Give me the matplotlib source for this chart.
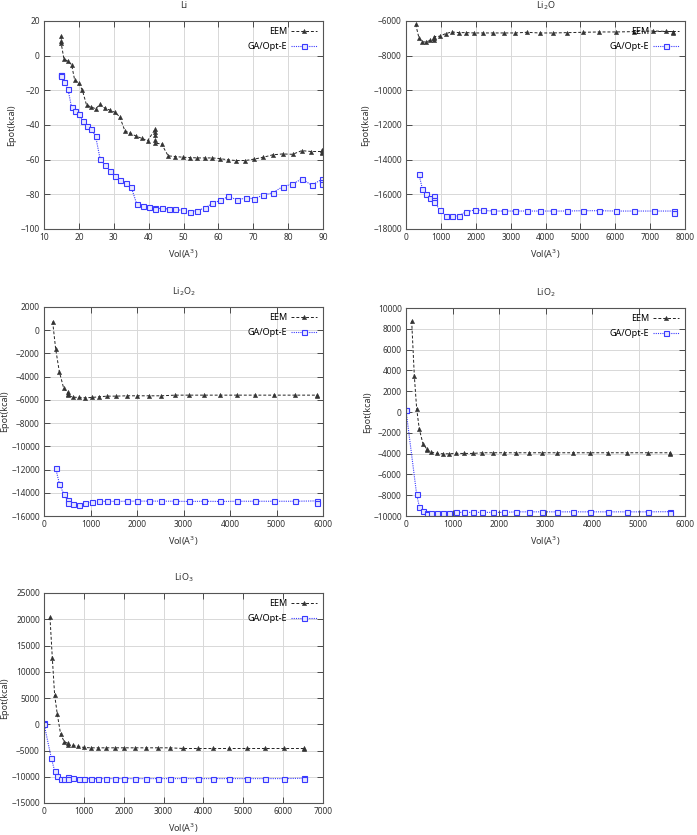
import matplotlib
matplotlib.use("Agg")
import matplotlib.pyplot as plt

plt.rcParams['font.family'] = ['Noto Sans', 'DejaVu Sans']
plt.rcParams['font.size'] = 6.5

# ---- Li ----
li_eem_v = [14.9, 14.9, 14.9, 15.7, 16.8, 17.9, 18.8, 19.9, 21.0, 22.2, 23.4, 24.8,
            26.1, 27.5, 28.9, 30.3, 31.7, 33.2, 34.7, 36.3, 38.0, 39.7,
            41.9, 41.9, 41.9, 41.9, 41.9, 43.7, 45.6, 47.7, 49.8, 52.0, 54.0,
            56.1, 58.3, 60.5, 62.8, 65.1, 67.7, 70.2, 72.9, 75.6, 78.4, 81.3,
            83.9, 86.7, 89.8, 89.8, 89.8]
li_eem_e = [11.2, 8.5, 7.5, -1.7, -3.2, -5.1, -14.1, -15.7, -19.9, -28.5, -29.5, -30.6,
            -28.1, -30.4, -31.4, -32.7, -35.2, -43.4, -44.8, -46.3, -47.7, -49.0,
            -42.5, -44.0, -46.0, -48.5, -50.5, -50.9, -57.8, -58.2, -58.6, -58.8, -59.0,
            -59.0, -59.0, -59.4, -60.1, -60.5, -60.5, -59.7, -58.6, -57.2, -56.7, -56.9,
            -54.8, -55.3, -55.3, -54.3, -56.0]
li_ga_v = [14.9, 14.9, 14.9, 15.7, 16.9, 17.9, 18.9, 20.1, 21.2, 22.4, 23.6, 24.8,
           26.1, 27.5, 29.0, 30.4, 31.8, 33.4, 35.0, 36.6, 38.4, 40.1,
           41.9, 41.9, 43.8, 45.7, 47.7, 49.8, 51.8, 53.9, 56.1, 58.3, 60.6,
           62.9, 65.3, 67.8, 70.3, 72.9, 75.6, 78.4, 81.2, 83.9, 86.8,
           89.8, 89.8, 89.8]
li_ga_e = [-11.0, -11.3, -11.6, -15.3, -19.5, -29.8, -31.8, -33.9, -37.9, -40.6, -42.3, -46.5,
           -59.7, -63.2, -66.6, -69.3, -71.8, -73.7, -75.8, -85.6, -87.0, -87.5,
           -87.8, -88.3, -88.1, -88.5, -88.7, -89.3, -90.0, -89.4, -87.9, -85.2, -83.5,
           -81.2, -83.1, -82.2, -82.5, -80.4, -79.1, -75.6, -74.1, -71.2, -74.7,
           -71.2, -72.8, -74.0]

# ---- Li2O ----
li2o_eem_v = [277, 372, 468, 582, 697, 811, 811, 811, 964, 1136, 1317, 1518, 1728,
              1957, 2215, 2492, 2797, 3122, 3465, 3828, 4220, 4630, 5069, 5527,
              6024, 6539, 7093, 7666, 7666]
li2o_eem_e = [-6192, -6978, -7208, -7208, -7112, -7100, -7000, -6900, -6882, -6728,
              -6632, -6671, -6671, -6690, -6690, -6690, -6690, -6690, -6652, -6690,
              -6690, -6671, -6652, -6632, -6632, -6613, -6575, -6613, -6700]
li2o_ga_v = [372, 468, 582, 697, 811, 811, 811, 974, 1136, 1317, 1518, 1728, 1967,
             2215, 2492, 2807, 3122, 3465, 3828, 4220, 4630, 5079, 5537, 6024,
             6549, 7103, 7675, 7675]
li2o_ga_e = [-14837, -15680, -16006, -16198, -16120, -16300, -16450, -16906, -17232,
             -17271, -17232, -17003, -16906, -16926, -16964, -16964, -16964, -16964,
             -16964, -16964, -16964, -16945, -16945, -16964, -16964, -16964, -16964,
             -17080]

# ---- Li2O2 ----
li2o2_eem_v = [186, 251, 330, 423, 509, 509, 509, 616, 746, 882, 1025, 1183, 1362,
               1556, 1778, 2007, 2265, 2523, 2817, 3118, 3441, 3785, 4151, 4545,
               4953, 5405, 5871, 5871]
li2o2_eem_e = [735, -1623, -3578, -4987, -5361, -5450, -5600, -5763, -5792, -5821,
               -5792, -5734, -5677, -5677, -5648, -5648, -5648, -5648, -5591, -5591,
               -5591, -5591, -5591, -5591, -5591, -5591, -5591, -5700]
li2o2_ga_v = [251, 330, 423, 509, 509, 624, 753, 889, 1032, 1190, 1362, 1556, 1778,
              2007, 2265, 2523, 2817, 3118, 3441, 3785, 4151, 4545, 4953, 5405,
              5871, 5871]
li2o2_ga_e = [-11887, -13210, -14101, -14650, -14850, -14963, -15021, -14906, -14760,
              -14740, -14740, -14740, -14730, -14720, -14720, -14720, -14730, -14750,
              -14730, -14750, -14730, -14730, -14730, -14730, -14700, -14850]

# ---- LiO2 ----
lio2_eem_v = [122, 179, 229, 286, 365, 444, 444, 544, 659, 788, 931, 1081, 1246,
              1432, 1640, 1862, 2105, 2363, 2635, 2935, 3250, 3587, 3952, 4339,
              4761, 5205, 5670, 5670]
lio2_eem_e = [8752, 3472, 336, -1648, -3056, -3536, -3660, -3856, -3984, -4016,
              -4016, -3984, -3984, -3984, -3920, -3920, -3920, -3920, -3920, -3920,
              -3920, -3920, -3920, -3920, -3920, -3920, -3920, -4050]
lio2_ga_v = [0, 0, 229, 286, 365, 444, 444, 544, 659, 788, 931, 1081, 1246, 1432,
             1640, 1862, 2105, 2363, 2635, 2935, 3250, 3587, 3952, 4339, 4761,
             5205, 5670, 5670]
lio2_ga_e = [176, 150, -7920, -9104, -9520, -9744, -9840, -9744, -9744, -9744, -9744,
             -9648, -9648, -9648, -9648, -9648, -9648, -9600, -9600, -9600, -9600,
             -9600, -9600, -9600, -9600, -9600, -9584, -9744]

# ---- LiO3 ----
lio3_eem_v = [150, 209, 267, 334, 417, 509, 609, 609, 726, 859, 1001, 1168, 1352,
              1560, 1777, 2019, 2278, 2553, 2853, 3162, 3496, 3855, 4239, 4647,
              5081, 5548, 6032, 6533, 6533]
lio3_eem_e = [20350, 12580, 5573, 1879, -1879, -3344, -3662, -3980, -4045, -4236,
              -4427, -4490, -4490, -4490, -4490, -4490, -4490, -4490, -4490, -4490,
              -4618, -4618, -4618, -4618, -4618, -4618, -4618, -4618, -4745]
lio3_ga_v = [0, 0, 184, 267, 334, 417, 509, 609, 609, 726, 868, 1001, 1168, 1352,
             1560, 1777, 2019, 2278, 2553, 2853, 3162, 3496, 3855, 4239, 4647,
             5081, 5548, 6032, 6533, 6533]
lio3_ga_e = [159, 100, -6465, -8885, -9904, -10478, -10414, -10100, -10414, -10286,
             -10478, -10350, -10350, -10350, -10350, -10350, -10350, -10350, -10350,
             -10350, -10350, -10350, -10350, -10350, -10350, -10350, -10350, -10350,
             -10286, -10478]

panels = [
    ("Li", li_eem_v, li_eem_e, li_ga_v, li_ga_e, (10, 90), range(10, 91, 10), (-100, 20), range(-100, 21, 20)),
    ("Li$_2$O", li2o_eem_v, li2o_eem_e, li2o_ga_v, li2o_ga_e, (0, 8000), range(0, 8001, 1000), (-18000, -6000), range(-18000, -5999, 2000)),
    ("Li$_2$O$_2$", li2o2_eem_v, li2o2_eem_e, li2o2_ga_v, li2o2_ga_e, (0, 6000), range(0, 6001, 1000), (-16000, 2000), range(-16000, 2001, 2000)),
    ("LiO$_2$", lio2_eem_v, lio2_eem_e, lio2_ga_v, lio2_ga_e, (0, 6000), range(0, 6001, 1000), (-10000, 10000), range(-10000, 10001, 2000)),
    ("LiO$_3$", lio3_eem_v, lio3_eem_e, lio3_ga_v, lio3_ga_e, (0, 7000), range(0, 7001, 1000), (-15000, 25000), range(-15000, 25001, 5000)),
]

W, H = 697, 835
# axes boxes in pixels: left, top, right, bottom, ylabel offset
boxes = [(44, 21, 323, 229, 28), (406, 21, 685, 229, 36),
         (44, 307, 323, 516, 35), (406, 308, 685, 516, 34),
         (44, 593, 323, 803, 35)]

fig = plt.figure(figsize=(W / 100, H / 100), dpi=100)

for (title, ev, ee, gv, ge, xl, xt, yl, yt), (l, t, r, b, yoff) in zip(panels, boxes):
    ax = fig.add_axes([l / W, 1 - b / H, (r - l) / W, (b - t) / H])
    ax.plot(ev, ee, color='#222222', ls=(0, (3, 2)), lw=0.7, marker='^',
            ms=3, mfc='#333333', mec='#333333', mew=0.4, label='EEM')
    ax.plot(gv, ge, color='#3a3aff', ls=(0, (1, 1)), lw=0.8, marker='s',
            ms=3.6, mfc='#e8e8ff', mec='#3a3aff', mew=0.8, label='GA/Opt-E')
    ax.set_xlim(*xl)
    ax.set_ylim(*yl)
    ax.set_xticks(list(xt))
    ax.set_yticks(list(yt))
    ax.grid(True, color='#d8d8d8', lw=0.7)
    ax.set_axisbelow(True)
    ax.tick_params(direction='in', top=True, right=True, length=4, width=0.6,
                   labelsize=6, pad=3, colors='#333333')
    for s in ax.spines.values():
        s.set_color('#555555')
        s.set_linewidth(0.8)
    ax.set_title(title, fontsize=6.5, pad=9, color='#333333')
    ax.set_xlabel("Vol(A$^3$)", fontsize=6.5, labelpad=4, color='#333333')
    ax.set_ylabel("Epot(kcal)", fontsize=6.5, color='#333333')
    ax.yaxis.set_label_coords(-yoff / (r - l), 0.5)
    ax.legend(loc='upper right', frameon=False, markerfirst=False, fontsize=6.5,
              handlelength=2.8, borderaxespad=0.3, labelspacing=0.6,
              handletextpad=0.5)

fig.savefig("out.png", dpi=100)
